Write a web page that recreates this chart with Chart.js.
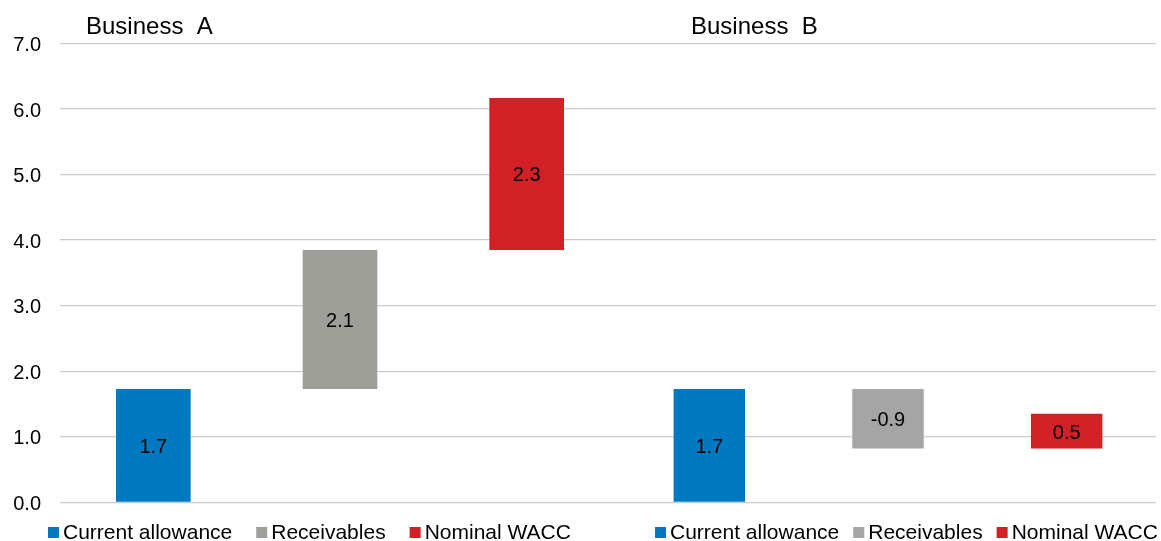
<!DOCTYPE html>
<html>
<head>
<meta charset="utf-8">
<script src="https://cdn.jsdelivr.net/npm/chart.js@4"></script>
<style>
  body { margin: 0; background: #fff; }
  #wrap { position: relative; width: 1161px; height: 541px; }
  canvas { position: absolute; top: 0; }
  #chartA { left: 0; }
  #chartB { left: 620px; }
</style>
</head>
<body>
<div id="wrap">
  <canvas id="chartA" width="620" height="541"></canvas>
  <canvas id="chartB" width="541" height="541"></canvas>
</div>
<script>
// data (waterfall steps)
const categories = ['Current allowance', 'Receivables', 'Nominal WACC']
const businessA = [1.73, 2.12, 2.32]
const businessB = [1.73, -0.91, 0.53]
const titles = ['Business  A', 'Business  B']
const yMin = 0
const yMax = 7
const yStep = 1

const colorsA = ['#0079c1', '#9f9f99', '#d22027']
const colorsB = ['#0079c1', '#a5a5a5', '#d22027']

const FONT = '"Liberation Sans", Arial, sans-serif'
Chart.defaults.font.family = FONT
Chart.defaults.color = '#000'

// turn step values into floating [start, end] bars
function toFloating(deltas) {
  let total = 0
  return deltas.map(d => {
    const start = total
    total += d
    return [start, total]
  })
}

// value labels, title and bottom legend
function decorations(deltas, colors, title, titleX, legendX, legendGap) {
  return {
    id: 'decorations',
    afterDatasetsDraw(chart) {
      const ctx = chart.ctx
      const meta = chart.getDatasetMeta(0)
      ctx.save()
      ctx.fillStyle = '#000'
      ctx.font = '20px ' + FONT
      ctx.textAlign = 'center'
      ctx.textBaseline = 'middle'
      meta.data.forEach((bar, i) => {
        ctx.fillText(deltas[i].toFixed(1), bar.x, (bar.y + bar.base) / 2 + 2)
      })

      ctx.textAlign = 'left'
      ctx.textBaseline = 'alphabetic'
      ctx.font = '24px ' + FONT
      ctx.fillText(title, titleX, 34)

      ctx.font = '21px ' + FONT
      ctx.textBaseline = 'middle'
      let x = legendX
      chart.data.labels.forEach((label, i) => {
        ctx.fillStyle = colors[i]
        ctx.fillRect(x, 527, 11, 11)
        ctx.fillStyle = '#000'
        ctx.fillText(label, x + 15, 533)
        x += 15 + ctx.measureText(label).width + legendGap
      })
      ctx.restore()
    }
  }
}

function makeChart(id, deltas, colors, title, o) {
  return new Chart(document.getElementById(id), {
    type: 'bar',
    data: {
      labels: categories,
      datasets: [{
        data: toFloating(deltas),
        backgroundColor: colors,
        barPercentage: 1,
        categoryPercentage: 0.4
      }]
    },
    options: {
      responsive: false,
      animation: false,
      layout: { padding: { top: 43.5, bottom: 38.7, left: 0, right: o.padRight } },
      plugins: {
        legend: { display: false },
        tooltip: { enabled: false },
        title: { display: false }
      },
      scales: {
        x: { display: false },
        y: {
          min: yMin,
          max: yMax,
          ticks: {
            display: o.showTicks,
            stepSize: yStep,
            padding: 19,
            labelOffset: 2,
            color: '#000',
            font: { size: 20 },
            callback: v => v.toFixed(1)
          },
          grid: { color: '#cccccc', lineWidth: 1.3, drawTicks: false },
          border: { display: false },
          afterFit: s => { s.width = o.axisWidth }
        }
      }
    },
    plugins: [decorations(deltas, colors, title, o.titleX, o.legendX, o.legendGap)]
  })
}

makeChart('chartA', businessA, colorsA, titles[0],
  { padRight: 0, showTicks: true, axisWidth: 60, titleX: 86, legendX: 48, legendGap: 24 })
makeChart('chartB', businessB, colorsB, titles[1],
  { padRight: 5, showTicks: false, axisWidth: 0, titleX: 71, legendX: 35, legendGap: 14 })
</script>
</body>
</html>
